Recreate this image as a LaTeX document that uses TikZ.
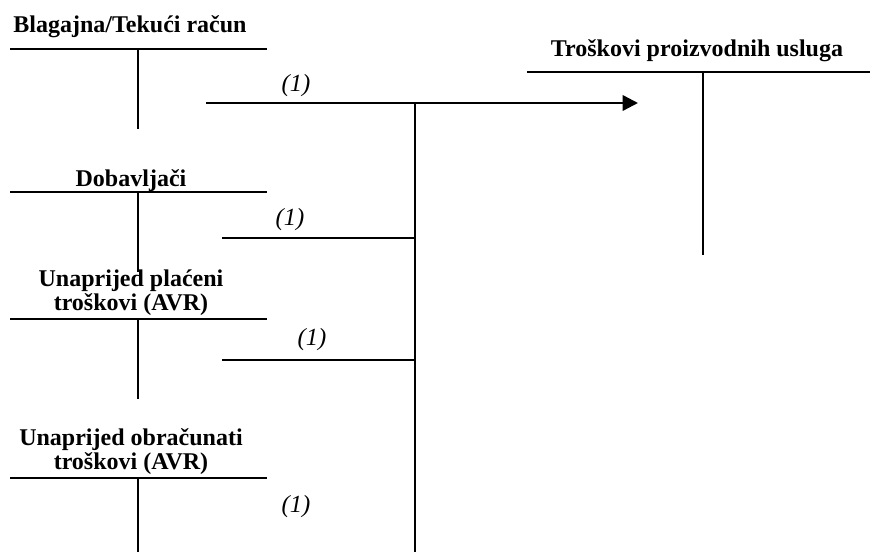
\documentclass[tikz,border=0pt]{standalone}
\usepackage{fontspec}
\setmainfont{Liberation Serif}
\usetikzlibrary{arrows.meta,positioning}

\begin{document}
\begin{tikzpicture}[x=0.75pt,y=-0.75pt,line width=1.4pt,
    konto/.style={font=\fontsize{18}{18.5}\selectfont\bfseries,inner sep=0pt,align=center},
    oznaka/.style={font=\fontsize{18.5}{18.5}\selectfont\itshape,inner sep=0pt},
    tok/.style={line width=1.8pt,-{Triangle[length=11.5pt,width=11.5pt]}}]
  \useasboundingbox (0,0) rectangle (870,552);
  % T-konta na lijevoj strani
  \foreach \ty in {49,192,319,478}
    \draw (10,\ty) -- (267,\ty) (138,\ty) -- ++(0,80);
  \node[konto,anchor=base] (blagajna) at (130,33) {Blagajna/Tekući račun};
  \node[konto,anchor=base] (dobavljaci) at (131,187) {Dobavljači};
  \node[konto,anchor=south] (avrPlaceni) at (131,317) {Unaprijed plaćeni\\troškovi (AVR)};
  \node[konto,anchor=south] (avrObracunati) at (131,476) {Unaprijed obračunati\\troškovi (AVR)};
  % konto troškova
  \draw (527,72) -- (870,72) (703,72) -- (703,255);
  \node[konto,anchor=base] (troskovi) at (697,57) {Troškovi proizvodnih usluga};
  % knjiženja
  \coordinate (izlaz) at (206,103);
  \coordinate (ulaz) at (638,103);
  \coordinate (spoj) at (415,103);
  \coordinate (dno) at (415,552);
  \coordinate (d1) at (222,238);
  \coordinate (d2) at (222,360);
  \draw[tok] (izlaz) -- (ulaz);
  \draw (spoj) -- (dno);
  \draw (d1) -- (d1 -| spoj);
  \draw (d2) -- (d2 -| spoj);
  \node[oznaka] (o1) at (296,86) {(1)};
  \node[oznaka] (o2) at (290,220) {(1)};
  \node[oznaka] (o3) at (312,340) {(1)};
  \node[oznaka] (o4) at (296,507) {(1)};
\end{tikzpicture}
\end{document}
